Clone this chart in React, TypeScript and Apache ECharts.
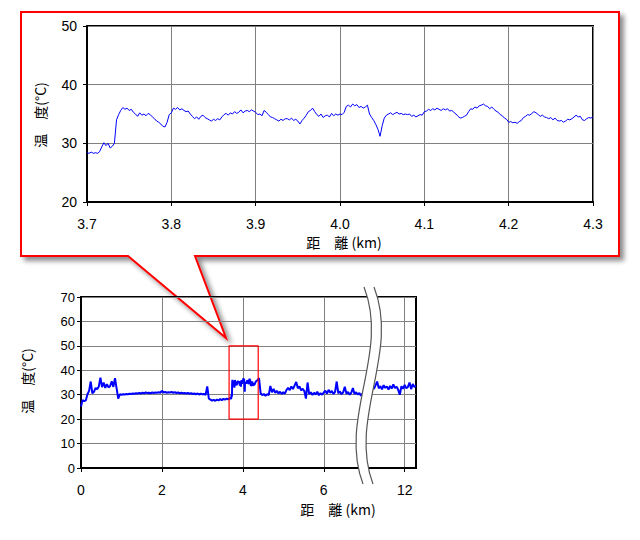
import React, { useEffect, useRef } from "react";
import * as echarts from "echarts";

// ---- detail (callout) chart: temperature every 2.5 m from 3.7 km to 4.3 km ----
const detailStartKm = 3.7;
const detailStepKm = 0.0025;
const detailTemps = [
  28.4, 28.3, 28.5, 28.3, 28.4, 28.3, 28.6, 29.4, 30.1, 29.6,
  30.0, 29.2, 29.5, 30.0, 34.0, 34.9, 35.6, 36.1, 35.8, 36.0,
  35.6, 35.8, 35.3, 35.0, 34.6, 35.2, 34.8, 35.0, 34.7, 35.1,
  34.9, 34.5, 34.2, 33.8, 33.6, 33.3, 32.9, 32.8, 33.6, 34.9,
  35.2, 36.0, 35.8, 36.1, 35.7, 35.9, 35.6, 35.4, 35.5, 35.0,
  34.6, 34.2, 34.5, 34.1, 34.6, 34.8, 34.4, 34.2, 34.0, 33.8,
  34.1, 33.9, 34.2, 34.0, 34.5, 34.9, 35.1, 34.8, 35.2, 35.0,
  35.4, 35.1, 35.3, 35.7, 35.2, 35.5, 35.6, 35.4, 35.7, 35.5,
  35.3, 34.9, 35.0, 34.7, 35.6, 35.3, 34.9, 34.5, 34.4, 34.2,
  34.0, 33.8, 34.1, 33.9, 34.2, 34.2, 34.0, 34.3, 33.9, 34.1,
  33.8, 33.3, 33.9, 34.3, 34.8, 35.4, 35.6, 36.0, 35.4, 34.9,
  34.6, 35.0, 34.4, 34.7, 34.8, 34.5, 35.1, 34.7, 35.0, 34.8,
  35.0, 34.9, 35.3, 36.3, 36.5, 36.2, 36.7, 36.4, 36.6, 36.1,
  36.3, 36.0, 36.2, 36.5, 35.0, 34.4, 33.9, 33.2, 32.4, 31.2,
  33.0, 34.3, 34.8, 35.0, 35.2, 34.9, 35.1, 35.3, 35.0, 35.1,
  34.9, 35.0, 34.9, 35.0, 34.6, 34.8, 34.5, 34.7, 34.9, 34.8,
  35.4, 35.5, 35.8, 35.6, 35.9, 35.7, 36.0, 35.8, 35.6, 35.9,
  35.7, 35.9, 35.5, 35.6, 35.3, 35.0, 34.6, 34.3, 34.4, 34.6,
  34.8, 35.4, 35.9, 35.8, 36.2, 36.0, 36.4, 36.5, 36.7, 36.4,
  36.3, 35.9, 36.2, 35.8, 35.5, 35.3, 34.9, 34.7, 34.3, 34.1,
  33.6, 33.7, 33.5, 33.6, 33.4, 33.7, 33.9, 34.4, 34.6, 34.9,
  34.8, 35.1, 35.4, 35.2, 34.9, 34.6, 34.8, 34.5, 34.4, 34.2,
  34.4, 34.0, 34.3, 33.9, 33.8, 33.9, 33.6, 33.8, 34.1, 34.0,
  34.2, 34.5, 34.8, 34.5, 34.6, 34.0, 33.9, 34.2, 34.4, 34.3,
  34.5,
];

// ---- overview chart: temperature every 40 m ----
const overviewAStartKm = 0;
const overviewAStepKm = 0.04;
const overviewATemps = [
  25.2, 27.8, 27.4, 27.7, 30.2, 31.6, 35.4, 30.6, 31.2, 32.8,
  32.2, 33.4, 37.0, 33.1, 35.0, 32.8, 34.3, 33.0, 33.6, 35.5,
  33.2, 36.8, 32.6, 28.4, 30.2, 30.0, 30.2, 30.1, 30.3, 30.2,
  30.4, 30.3, 30.5, 30.4, 30.6, 30.5, 30.7, 30.5, 30.8, 30.6,
  30.9, 30.7, 30.8, 30.6, 30.9, 30.7, 30.9, 30.8, 31.0, 30.8,
  31.6, 30.9, 31.1, 30.8, 31.0, 30.9, 31.1, 30.8, 31.0, 30.7,
  30.9, 30.6, 30.8, 30.6, 30.7, 30.5, 30.7, 30.4, 30.6, 30.3,
  30.5, 30.2, 30.5, 30.1, 30.4, 30.2, 30.3, 30.0, 33.4, 28.4,
  28.0, 27.6, 27.9, 27.5, 28.0, 27.7, 28.2, 27.8, 28.3, 28.0,
  28.4, 28.1, 28.6,
];

const overviewBStartKm = 4.32;
const overviewBStepKm = 0.04;
const overviewBTemps = [
  35.4, 35.9, 36.8, 30.6, 29.8, 30.3, 29.6, 30.2, 29.8, 33.6,
  31.0, 32.4, 30.8, 31.6, 30.5, 31.2, 30.3, 31.0, 30.4, 32.0,
  32.8, 31.9, 33.4, 32.3, 33.8, 35.2, 32.6, 33.4, 31.8, 32.4,
  31.5, 28.4, 35.0, 30.2, 31.0, 29.9, 30.8, 30.1, 31.2, 29.8,
  30.6, 30.0, 30.9, 31.6, 30.4, 32.0, 30.8, 31.5, 30.3, 31.2,
  35.4, 30.6, 31.3, 30.2, 31.0, 33.3, 30.4, 31.1, 30.0, 30.8,
  32.7, 30.3, 31.0, 30.1, 30.7, 29.6, 30.5, 30.0, 30.6, 29.8,
  30.4,
];

const overviewCStartKm = 11.16;
const overviewCStepKm = 0.04;
const overviewCTemps = [
  30.2, 33.0, 32.4, 33.8, 35.4, 32.6, 33.5, 32.2, 33.9, 32.8,
  33.4, 32.1, 33.6, 32.5, 34.2, 32.7, 33.3, 32.0, 30.0, 33.5,
  32.4, 34.0, 32.6, 33.2, 35.0, 32.3, 34.4, 33.1, 33.8,
];

// km hidden by the broken axis (about 7.1 km to 11.1 km)
const breakGapKm = 4;
// red box marking the enlarged range on the overview
const zoomBoxKm = [3.66, 4.38];
const zoomBoxTemp = [20, 50];

const overviewXTicks = [0, 2, 4, 6, 8];

const numFont = "'Liberation Sans', Arial, sans-serif";
const cjkFont = "'Noto Sans CJK JP', 'Liberation Sans', sans-serif";

export default function App() {
  const ref = useRef<HTMLDivElement>(null);

  useEffect(() => {
    if (!ref.current) return;
    const chart = echarts.init(ref.current, null, { renderer: "svg" });

    const detailMeters = detailTemps.map((t, i) => [
      Math.round((detailStartKm + i * detailStepKm) * 10000) / 10,
      t,
    ]);
    const detailKm = detailTemps.map((t, i) => [detailStartKm + i * detailStepKm, t]);
    const partA = overviewATemps.map((t, i) => [overviewAStartKm + i * overviewAStepKm, t]);
    const partB = overviewBTemps.map((t, i) => [overviewBStartKm + i * overviewBStepKm, t]);
    const partC = overviewCTemps.map((t, i) => [
      overviewCStartKm + i * overviewCStepKm - breakGapKm,
      t,
    ]);
    const leftOverview = [...partA, ...detailKm, ...partB];
    const boxData = [
      [zoomBoxKm[0], zoomBoxTemp[0]],
      [zoomBoxKm[0], zoomBoxTemp[1]],
      [zoomBoxKm[1], zoomBoxTemp[1]],
      [zoomBoxKm[1], zoomBoxTemp[0]],
      [zoomBoxKm[0], zoomBoxTemp[0]],
    ];

    const axisLine = { show: true, onZero: false, lineStyle: { color: "#000", width: 2 } };
    const axisTick = { show: true, inside: false, length: 4, lineStyle: { color: "#000", width: 1 } };
    const splitLine = { show: true, lineStyle: { color: "#808080", width: 1 } };

    // S-shaped break band
    const bx = { x1: 369, y1: 287, cpx1: 395, cpy1: 353, cpx2: 343, cpy2: 418, x2: 368, y2: 484 };
    const shifted = (dx: number) => ({
      x1: bx.x1 + dx, y1: bx.y1, cpx1: bx.cpx1 + dx, cpy1: bx.cpy1,
      cpx2: bx.cpx2 + dx, cpy2: bx.cpy2, x2: bx.x2 + dx, y2: bx.y2,
    });

    const nameStyle = {
      fill: "#000", fontSize: 14, fontFamily: cjkFont,
      align: "center", verticalAlign: "middle", textAlign: "center", textVerticalAlign: "middle",
    };

    const option: any = {
      animation: false,
      backgroundColor: "#fff",
      grid: [
        { left: 87, right: 47, top: 26, bottom: 338, show: true, borderColor: "#000", borderWidth: 2, backgroundColor: "transparent" },
        { left: 81, right: 224, top: 297, bottom: 72, show: true, borderColor: "#000", borderWidth: 2, backgroundColor: "transparent" },
      ],
      xAxis: [
        {
          type: "value", gridIndex: 0, min: 3700, max: 4300, interval: 100,
          axisLine, axisTick, splitLine,
          axisLabel: {
            color: "#000", fontSize: 14, fontFamily: numFont, margin: 15,
            formatter: (v: number) => (v / 1000).toFixed(1),
          },
        },
        {
          type: "value", gridIndex: 1, min: 0, max: 8.28, interval: 2,
          axisLine, splitLine,
          axisTick: { ...axisTick, customValues: overviewXTicks },
          axisLabel: {
            color: "#000", fontSize: 14, fontFamily: numFont, margin: 15,
            customValues: overviewXTicks,
            formatter: (v: number) =>
              Math.abs(v / 2 - Math.round(v / 2)) < 1e-6 ? String(v > 7 ? v + breakGapKm : v) : "",
          },
        },
      ],
      yAxis: [
        {
          type: "value", gridIndex: 0, min: 20, max: 50, interval: 10,
          axisLine, axisTick, splitLine,
          axisLabel: { color: "#000", fontSize: 14, fontFamily: numFont, margin: 10 },
        },
        {
          type: "value", gridIndex: 1, min: 0, max: 70, interval: 10,
          axisLine, axisTick, splitLine,
          axisLabel: { color: "#000", fontSize: 13, fontFamily: numFont, margin: 6 },
        },
      ],
      series: [
        {
          type: "line", xAxisIndex: 0, yAxisIndex: 0, data: detailMeters,
          showSymbol: false, symbol: "none", lineStyle: { color: "#0000ff", width: 1 }, z: 5,
        },
        {
          type: "line", xAxisIndex: 1, yAxisIndex: 1, data: leftOverview,
          showSymbol: false, symbol: "none", lineStyle: { color: "#0000ff", width: 2 }, z: 5,
        },
        {
          type: "line", xAxisIndex: 1, yAxisIndex: 1, data: partC,
          showSymbol: false, symbol: "none", lineStyle: { color: "#0000ff", width: 2 }, z: 5,
        },
        {
          type: "line", xAxisIndex: 1, yAxisIndex: 1, data: boxData,
          showSymbol: false, symbol: "none", lineStyle: { color: "#ff0000", width: 1.2 }, z: 6,
        },
      ],
      graphic: {
        elements: [
          {
            type: "polygon", z: -10,
            shape: { points: [[21, 12], [619, 12], [619, 256], [195, 256], [226, 338], [128, 256], [21, 256]] },
            style: {
              fill: "#fff", stroke: "#ff0000", lineWidth: 2,
              shadowBlur: 5, shadowOffsetX: 4, shadowOffsetY: 4, shadowColor: "rgba(0,0,0,0.45)",
            },
          },
          { type: "bezierCurve", z: 100, shape: shifted(0), style: { stroke: "#fff", lineWidth: 10, fill: null } },
          { type: "bezierCurve", z: 101, shape: shifted(-5), style: { stroke: "#555", lineWidth: 1.2, fill: null } },
          { type: "bezierCurve", z: 101, shape: shifted(5), style: { stroke: "#555", lineWidth: 1.2, fill: null } },
          { type: "text", x: 40, y: 115, rotation: Math.PI / 2, z: 50, style: { ...nameStyle, text: "温　度(°C)" } },
          { type: "text", x: 27, y: 381, rotation: Math.PI / 2, z: 50, style: { ...nameStyle, text: "温　度(°C)" } },
          { type: "text", x: 344, y: 242, z: 50, style: { ...nameStyle, text: "距　離 (km)" } },
          { type: "text", x: 338, y: 509, z: 50, style: { ...nameStyle, text: "距　離 (km)" } },
        ],
      },
    };

    chart.setOption(option);
    return () => chart.dispose();
  }, []);

  return (
    <div
      ref={ref}
      style={{ position: "fixed", left: 0, top: 0, width: 640, height: 540, background: "#fff" }}
    />
  );
}
